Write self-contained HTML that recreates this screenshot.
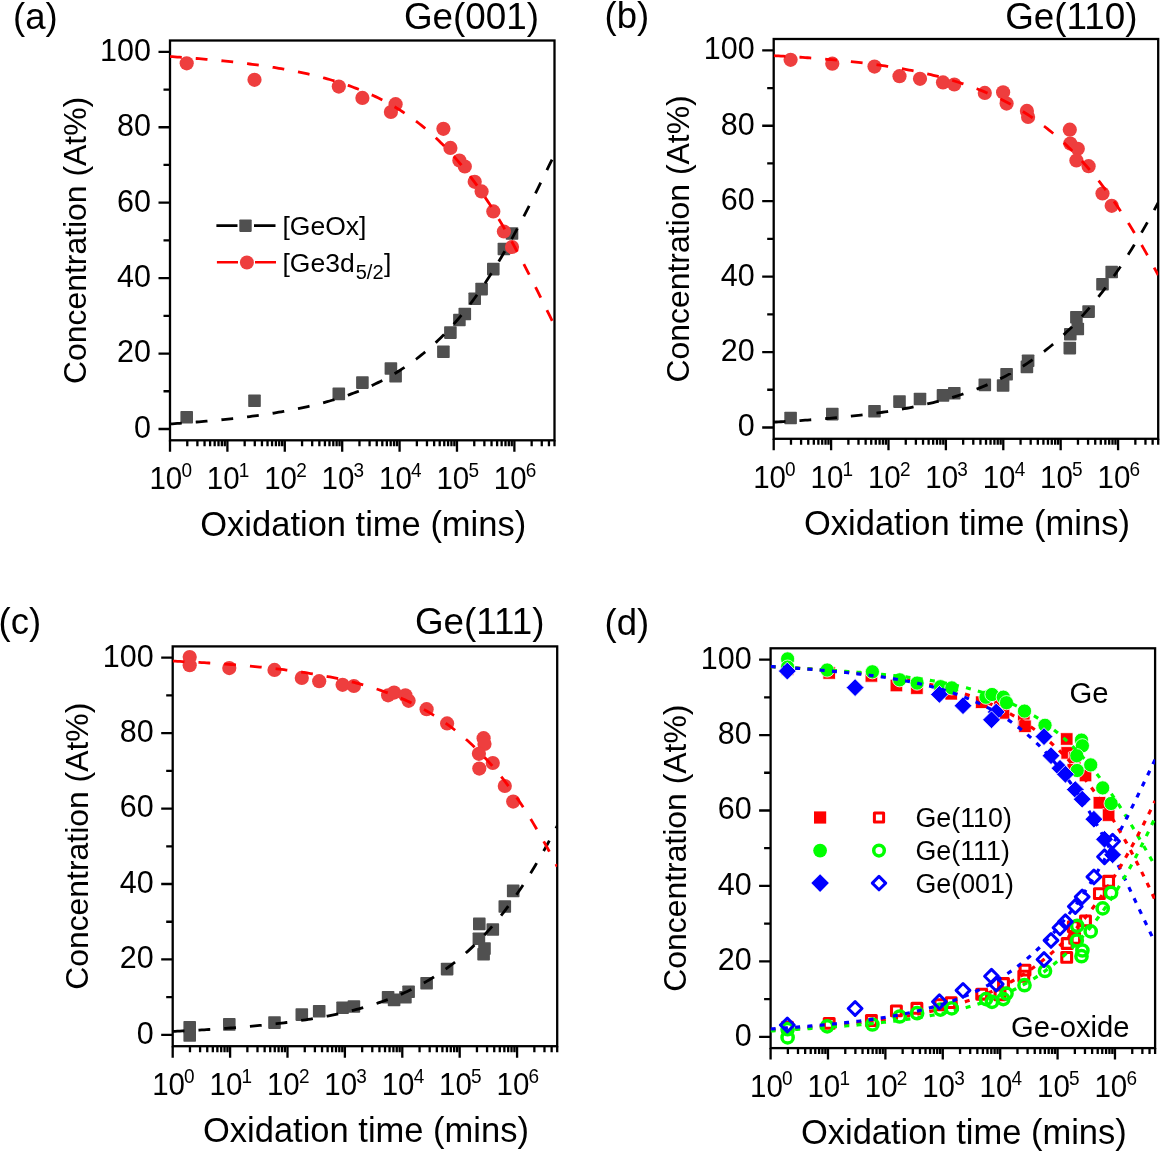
<!DOCTYPE html>
<html><head><meta charset="utf-8"><style>
html,body{margin:0;padding:0;background:#fff;overflow:hidden;}
svg{display:block;will-change:transform;}
text{font-family:"Liberation Sans", sans-serif;fill:#000;}
</style></head><body>
<svg width="1160" height="1151" viewBox="0 0 1160 1151">
<rect width="1160" height="1151" fill="#fff"/>
<g>
<rect x="170.00" y="40.50" width="384.50" height="399.80" fill="none" stroke="#000" stroke-width="2.3"/>
<path d="M158.50 428.98H170.00M158.50 353.55H170.00M158.50 278.12H170.00M158.50 202.68H170.00M158.50 127.25H170.00M158.50 51.82H170.00M163.50 391.27H170.00M163.50 315.83H170.00M163.50 240.40H170.00M163.50 164.97H170.00M163.50 89.53H170.00M170.00 440.30V451.80M227.40 440.30V451.80M284.79 440.30V451.80M342.19 440.30V451.80M399.59 440.30V451.80M456.98 440.30V451.80M514.38 440.30V451.80M187.28 440.30V446.30M197.39 440.30V446.30M204.56 440.30V446.30M210.12 440.30V446.30M214.66 440.30V446.30M218.51 440.30V446.30M221.83 440.30V446.30M224.77 440.30V446.30M244.68 440.30V446.30M254.78 440.30V446.30M261.95 440.30V446.30M267.52 440.30V446.30M272.06 440.30V446.30M275.90 440.30V446.30M279.23 440.30V446.30M282.17 440.30V446.30M302.07 440.30V446.30M312.18 440.30V446.30M319.35 440.30V446.30M324.91 440.30V446.30M329.46 440.30V446.30M333.30 440.30V446.30M336.63 440.30V446.30M339.56 440.30V446.30M359.47 440.30V446.30M369.58 440.30V446.30M376.75 440.30V446.30M382.31 440.30V446.30M386.85 440.30V446.30M390.70 440.30V446.30M394.03 440.30V446.30M396.96 440.30V446.30M416.87 440.30V446.30M426.97 440.30V446.30M434.14 440.30V446.30M439.71 440.30V446.30M444.25 440.30V446.30M448.09 440.30V446.30M451.42 440.30V446.30M454.36 440.30V446.30M474.26 440.30V446.30M484.37 440.30V446.30M491.54 440.30V446.30M497.10 440.30V446.30M501.65 440.30V446.30M505.49 440.30V446.30M508.82 440.30V446.30M511.75 440.30V446.30M531.66 440.30V446.30M541.77 440.30V446.30M548.94 440.30V446.30M554.50 440.30V446.30" stroke="#000" stroke-width="2.3" fill="none"/>
<text transform="translate(151.00,437.88) scale(1,1.04)" text-anchor="end" font-size="30.5">0</text>
<text transform="translate(151.00,362.45) scale(1,1.04)" text-anchor="end" font-size="30.5">20</text>
<text transform="translate(151.00,287.02) scale(1,1.04)" text-anchor="end" font-size="30.5">40</text>
<text transform="translate(151.00,211.58) scale(1,1.04)" text-anchor="end" font-size="30.5">60</text>
<text transform="translate(151.00,136.15) scale(1,1.04)" text-anchor="end" font-size="30.5">80</text>
<text transform="translate(151.00,60.72) scale(1,1.04)" text-anchor="end" font-size="30.5">100</text>
<text transform="translate(170.70,489.00) scale(1,1.04)" text-anchor="middle" font-size="29.5">10<tspan font-size="19" dx="-0.8" dy="-11.3">0</tspan></text>
<text transform="translate(228.10,489.00) scale(1,1.04)" text-anchor="middle" font-size="29.5">10<tspan font-size="19" dx="-0.8" dy="-11.3">1</tspan></text>
<text transform="translate(285.49,489.00) scale(1,1.04)" text-anchor="middle" font-size="29.5">10<tspan font-size="19" dx="-0.8" dy="-11.3">2</tspan></text>
<text transform="translate(342.89,489.00) scale(1,1.04)" text-anchor="middle" font-size="29.5">10<tspan font-size="19" dx="-0.8" dy="-11.3">3</tspan></text>
<text transform="translate(400.29,489.00) scale(1,1.04)" text-anchor="middle" font-size="29.5">10<tspan font-size="19" dx="-0.8" dy="-11.3">4</tspan></text>
<text transform="translate(457.68,489.00) scale(1,1.04)" text-anchor="middle" font-size="29.5">10<tspan font-size="19" dx="-0.8" dy="-11.3">5</tspan></text>
<text transform="translate(515.08,489.00) scale(1,1.04)" text-anchor="middle" font-size="29.5">10<tspan font-size="19" dx="-0.8" dy="-11.3">6</tspan></text>
<text x="363.25" y="536.30" text-anchor="middle" font-size="34.5">Oxidation time (mins)</text>
<text transform="translate(85.60,240.40) rotate(-90)" text-anchor="middle" font-size="31.9">Concentration (At%)</text>
<clipPath id="cla"><rect x="170.0" y="40.5" width="384.5" height="399.8"/></clipPath>
<rect x="180.40" y="410.90" width="12.60" height="12.60" fill="#505050" rx="0.8"/>
<rect x="248.20" y="394.40" width="12.60" height="12.60" fill="#505050" rx="0.8"/>
<rect x="332.50" y="387.60" width="12.60" height="12.60" fill="#505050" rx="0.8"/>
<rect x="356.10" y="376.30" width="12.60" height="12.60" fill="#505050" rx="0.8"/>
<rect x="389.30" y="370.00" width="12.60" height="12.60" fill="#505050" rx="0.8"/>
<rect x="384.60" y="362.20" width="12.60" height="12.60" fill="#505050" rx="0.8"/>
<rect x="437.10" y="345.40" width="12.60" height="12.60" fill="#505050" rx="0.8"/>
<rect x="444.10" y="326.30" width="12.60" height="12.60" fill="#505050" rx="0.8"/>
<rect x="453.10" y="313.70" width="12.60" height="12.60" fill="#505050" rx="0.8"/>
<rect x="458.50" y="307.70" width="12.60" height="12.60" fill="#505050" rx="0.8"/>
<rect x="468.40" y="292.40" width="12.60" height="12.60" fill="#505050" rx="0.8"/>
<rect x="475.30" y="282.80" width="12.60" height="12.60" fill="#505050" rx="0.8"/>
<rect x="487.00" y="262.80" width="12.60" height="12.60" fill="#505050" rx="0.8"/>
<rect x="497.60" y="242.70" width="12.60" height="12.60" fill="#505050" rx="0.8"/>
<rect x="505.70" y="227.20" width="12.60" height="12.60" fill="#505050" rx="0.8"/>
<circle cx="186.70" cy="63.30" r="7.10" fill="#ee3e3e"/>
<circle cx="254.50" cy="79.80" r="7.10" fill="#ee3e3e"/>
<circle cx="338.80" cy="86.60" r="7.10" fill="#ee3e3e"/>
<circle cx="362.40" cy="97.90" r="7.10" fill="#ee3e3e"/>
<circle cx="395.60" cy="104.20" r="7.10" fill="#ee3e3e"/>
<circle cx="390.90" cy="112.00" r="7.10" fill="#ee3e3e"/>
<circle cx="443.40" cy="128.80" r="7.10" fill="#ee3e3e"/>
<circle cx="450.40" cy="147.90" r="7.10" fill="#ee3e3e"/>
<circle cx="459.40" cy="160.50" r="7.10" fill="#ee3e3e"/>
<circle cx="464.80" cy="166.50" r="7.10" fill="#ee3e3e"/>
<circle cx="474.70" cy="181.80" r="7.10" fill="#ee3e3e"/>
<circle cx="481.60" cy="191.40" r="7.10" fill="#ee3e3e"/>
<circle cx="493.30" cy="211.40" r="7.10" fill="#ee3e3e"/>
<circle cx="503.90" cy="231.50" r="7.10" fill="#ee3e3e"/>
<circle cx="512.00" cy="247.00" r="7.10" fill="#ee3e3e"/>
<path d="M170.00 423.95L172.42 423.79L174.84 423.63L177.25 423.46L179.67 423.29L182.09 423.12L184.51 422.94L186.93 422.76L189.35 422.58L191.76 422.39L194.18 422.20L196.60 422.00L199.02 421.80L201.44 421.60L203.86 421.39L206.27 421.18L208.69 420.97L211.11 420.75L213.53 420.52L215.95 420.29L218.36 420.06L220.78 419.82L223.20 419.57L225.62 419.32L228.04 419.07L230.46 418.81L232.87 418.54L235.29 418.27L237.71 418.00L240.13 417.71L242.55 417.43L244.97 417.13L247.38 416.83L249.80 416.52L252.22 416.21L254.64 415.89L257.06 415.56L259.47 415.22L261.89 414.88L264.31 414.52L266.73 414.16L269.15 413.80L271.57 413.42L273.98 413.03L276.40 412.64L278.82 412.24L281.24 411.82L283.66 411.40L286.08 410.96L288.49 410.52L290.91 410.06L293.33 409.60L295.75 409.12L298.17 408.63L300.58 408.13L303.00 407.61L305.42 407.08L307.84 406.54L310.26 405.98L312.68 405.41L315.09 404.83L317.51 404.23L319.93 403.61L322.35 402.98L324.77 402.33L327.19 401.67L329.60 400.98L332.02 400.28L334.44 399.56L336.86 398.82L339.28 398.06L341.69 397.28L344.11 396.48L346.53 395.65L348.95 394.81L351.37 393.94L353.79 393.04L356.20 392.13L358.62 391.18L361.04 390.21L363.46 389.22L365.88 388.19L368.30 387.14L370.71 386.06L373.13 384.95L375.55 383.81L377.97 382.63L380.39 381.43L382.81 380.19L385.22 378.91L387.64 377.60L390.06 376.26L392.48 374.87L394.90 373.45L397.31 371.99L399.73 370.49L402.15 368.94L404.57 367.36L406.99 365.73L409.41 364.05L411.82 362.33L414.24 360.57L416.66 358.75L419.08 356.89L421.50 354.97L423.92 353.01L426.33 350.99L428.75 348.92L431.17 346.80L433.59 344.61L436.01 342.38L438.42 340.08L440.84 337.72L443.26 335.31L445.68 332.83L448.10 330.29L450.52 327.69L452.93 325.03L455.35 322.30L457.77 319.50L460.19 316.64L462.61 313.70L465.03 310.70L467.44 307.63L469.86 304.50L472.28 301.29L474.70 298.01L477.12 294.66L479.53 291.23L481.95 287.74L484.37 284.17L486.79 280.54L489.21 276.83L491.63 273.04L494.04 269.19L496.46 265.27L498.88 261.28L501.30 257.21L503.72 253.08L506.14 248.89L508.55 244.62L510.97 240.29L513.39 235.91L515.81 231.45L518.23 226.95L520.64 222.38L523.06 217.76L525.48 213.09L527.90 208.38L530.32 203.62L532.74 198.82L535.15 193.98L537.57 189.11L539.99 184.21L542.41 179.29L544.83 174.36L547.25 169.40L549.66 164.44L552.08 159.48L554.50 154.53" fill="none" stroke="#000" stroke-width="2.8" stroke-dasharray="11.8 14" clip-path="url(#cla)"/>
<path d="M170.00 56.54L172.42 56.70L174.84 56.86L177.25 57.03L179.67 57.20L182.09 57.37L184.51 57.55L186.93 57.73L189.35 57.91L191.76 58.10L194.18 58.29L196.60 58.49L199.02 58.69L201.44 58.89L203.86 59.10L206.27 59.31L208.69 59.53L211.11 59.75L213.53 59.98L215.95 60.21L218.36 60.44L220.78 60.68L223.20 60.93L225.62 61.18L228.04 61.43L230.46 61.69L232.87 61.96L235.29 62.23L237.71 62.51L240.13 62.79L242.55 63.08L244.97 63.38L247.38 63.68L249.80 63.99L252.22 64.31L254.64 64.63L257.06 64.96L259.47 65.30L261.89 65.64L264.31 65.99L266.73 66.35L269.15 66.72L271.57 67.10L273.98 67.49L276.40 67.88L278.82 68.29L281.24 68.70L283.66 69.13L286.08 69.56L288.49 70.00L290.91 70.46L293.33 70.93L295.75 71.40L298.17 71.89L300.58 72.40L303.00 72.91L305.42 73.44L307.84 73.98L310.26 74.53L312.68 75.10L315.09 75.69L317.51 76.29L319.93 76.90L322.35 77.53L324.77 78.18L327.19 78.84L329.60 79.52L332.02 80.22L334.44 80.94L336.86 81.68L339.28 82.44L341.69 83.22L344.11 84.02L346.53 84.84L348.95 85.68L351.37 86.55L353.79 87.44L356.20 88.35L358.62 89.29L361.04 90.26L363.46 91.25L365.88 92.27L368.30 93.32L370.71 94.40L373.13 95.51L375.55 96.64L377.97 97.82L380.39 99.02L382.81 100.26L385.22 101.53L387.64 102.83L390.06 104.18L392.48 105.56L394.90 106.97L397.31 108.43L399.73 109.93L402.15 111.47L404.57 113.05L406.99 114.68L409.41 116.35L411.82 118.07L414.24 119.83L416.66 121.64L419.08 123.50L421.50 125.42L423.92 127.38L426.33 129.39L428.75 131.46L431.17 133.59L433.59 135.77L436.01 138.00L438.42 140.30L440.84 142.65L443.26 145.07L445.68 147.54L448.10 150.08L450.52 152.69L452.93 155.35L455.35 158.08L457.77 160.88L460.19 163.75L462.61 166.68L465.03 169.68L467.44 172.75L469.86 175.90L472.28 179.11L474.70 182.39L477.12 185.75L479.53 189.17L481.95 192.67L484.37 196.24L486.79 199.88L489.21 203.59L491.63 207.38L494.04 211.23L496.46 215.16L498.88 219.16L501.30 223.22L503.72 227.35L506.14 231.55L508.55 235.81L510.97 240.14L513.39 244.53L515.81 248.98L518.23 253.48L520.64 258.04L523.06 262.65L525.48 267.31L527.90 272.02L530.32 276.76L532.74 281.55L535.15 286.37L537.57 291.21L539.99 296.09L542.41 300.98L544.83 305.89L547.25 310.80L549.66 315.72L552.08 320.63L554.50 325.54" fill="none" stroke="#f00" stroke-width="2.8" stroke-dasharray="11.8 14" clip-path="url(#cla)"/>
</g>
<g>
<rect x="773.70" y="39.00" width="384.50" height="399.80" fill="none" stroke="#000" stroke-width="2.3"/>
<path d="M762.20 427.48H773.70M762.20 352.05H773.70M762.20 276.62H773.70M762.20 201.18H773.70M762.20 125.75H773.70M762.20 50.32H773.70M767.20 389.77H773.70M767.20 314.33H773.70M767.20 238.90H773.70M767.20 163.47H773.70M767.20 88.03H773.70M773.70 438.80V450.30M831.10 438.80V450.30M888.49 438.80V450.30M945.89 438.80V450.30M1003.29 438.80V450.30M1060.68 438.80V450.30M1118.08 438.80V450.30M790.98 438.80V444.80M801.09 438.80V444.80M808.26 438.80V444.80M813.82 438.80V444.80M818.36 438.80V444.80M822.21 438.80V444.80M825.53 438.80V444.80M828.47 438.80V444.80M848.38 438.80V444.80M858.48 438.80V444.80M865.65 438.80V444.80M871.22 438.80V444.80M875.76 438.80V444.80M879.60 438.80V444.80M882.93 438.80V444.80M885.87 438.80V444.80M905.77 438.80V444.80M915.88 438.80V444.80M923.05 438.80V444.80M928.61 438.80V444.80M933.16 438.80V444.80M937.00 438.80V444.80M940.33 438.80V444.80M943.26 438.80V444.80M963.17 438.80V444.80M973.28 438.80V444.80M980.45 438.80V444.80M986.01 438.80V444.80M990.55 438.80V444.80M994.40 438.80V444.80M997.73 438.80V444.80M1000.66 438.80V444.80M1020.57 438.80V444.80M1030.67 438.80V444.80M1037.84 438.80V444.80M1043.41 438.80V444.80M1047.95 438.80V444.80M1051.79 438.80V444.80M1055.12 438.80V444.80M1058.06 438.80V444.80M1077.96 438.80V444.80M1088.07 438.80V444.80M1095.24 438.80V444.80M1100.80 438.80V444.80M1105.35 438.80V444.80M1109.19 438.80V444.80M1112.52 438.80V444.80M1115.45 438.80V444.80M1135.36 438.80V444.80M1145.47 438.80V444.80M1152.64 438.80V444.80M1158.20 438.80V444.80" stroke="#000" stroke-width="2.3" fill="none"/>
<text transform="translate(754.70,436.38) scale(1,1.04)" text-anchor="end" font-size="30.5">0</text>
<text transform="translate(754.70,360.95) scale(1,1.04)" text-anchor="end" font-size="30.5">20</text>
<text transform="translate(754.70,285.52) scale(1,1.04)" text-anchor="end" font-size="30.5">40</text>
<text transform="translate(754.70,210.08) scale(1,1.04)" text-anchor="end" font-size="30.5">60</text>
<text transform="translate(754.70,134.65) scale(1,1.04)" text-anchor="end" font-size="30.5">80</text>
<text transform="translate(754.70,59.22) scale(1,1.04)" text-anchor="end" font-size="30.5">100</text>
<text transform="translate(774.40,487.50) scale(1,1.04)" text-anchor="middle" font-size="29.5">10<tspan font-size="19" dx="-0.8" dy="-11.3">0</tspan></text>
<text transform="translate(831.80,487.50) scale(1,1.04)" text-anchor="middle" font-size="29.5">10<tspan font-size="19" dx="-0.8" dy="-11.3">1</tspan></text>
<text transform="translate(889.19,487.50) scale(1,1.04)" text-anchor="middle" font-size="29.5">10<tspan font-size="19" dx="-0.8" dy="-11.3">2</tspan></text>
<text transform="translate(946.59,487.50) scale(1,1.04)" text-anchor="middle" font-size="29.5">10<tspan font-size="19" dx="-0.8" dy="-11.3">3</tspan></text>
<text transform="translate(1003.99,487.50) scale(1,1.04)" text-anchor="middle" font-size="29.5">10<tspan font-size="19" dx="-0.8" dy="-11.3">4</tspan></text>
<text transform="translate(1061.38,487.50) scale(1,1.04)" text-anchor="middle" font-size="29.5">10<tspan font-size="19" dx="-0.8" dy="-11.3">5</tspan></text>
<text transform="translate(1118.78,487.50) scale(1,1.04)" text-anchor="middle" font-size="29.5">10<tspan font-size="19" dx="-0.8" dy="-11.3">6</tspan></text>
<text x="966.95" y="534.80" text-anchor="middle" font-size="34.5">Oxidation time (mins)</text>
<text transform="translate(689.30,238.90) rotate(-90)" text-anchor="middle" font-size="31.9">Concentration (At%)</text>
<clipPath id="clb"><rect x="773.7" y="39.0" width="384.5" height="399.8"/></clipPath>
<rect x="784.30" y="411.70" width="12.60" height="12.60" fill="#505050" rx="0.8"/>
<rect x="826.00" y="407.80" width="12.60" height="12.60" fill="#505050" rx="0.8"/>
<rect x="868.20" y="404.90" width="12.60" height="12.60" fill="#505050" rx="0.8"/>
<rect x="893.20" y="395.30" width="12.60" height="12.60" fill="#505050" rx="0.8"/>
<rect x="913.70" y="392.70" width="12.60" height="12.60" fill="#505050" rx="0.8"/>
<rect x="936.70" y="389.10" width="12.60" height="12.60" fill="#505050" rx="0.8"/>
<rect x="948.00" y="387.00" width="12.60" height="12.60" fill="#505050" rx="0.8"/>
<rect x="978.50" y="378.60" width="12.60" height="12.60" fill="#505050" rx="0.8"/>
<rect x="996.80" y="379.20" width="12.60" height="12.60" fill="#505050" rx="0.8"/>
<rect x="1000.30" y="367.90" width="12.60" height="12.60" fill="#505050" rx="0.8"/>
<rect x="1020.60" y="360.60" width="12.60" height="12.60" fill="#505050" rx="0.8"/>
<rect x="1021.80" y="354.50" width="12.60" height="12.60" fill="#505050" rx="0.8"/>
<rect x="1063.50" y="341.80" width="12.60" height="12.60" fill="#505050" rx="0.8"/>
<rect x="1064.00" y="327.90" width="12.60" height="12.60" fill="#505050" rx="0.8"/>
<rect x="1071.50" y="322.70" width="12.60" height="12.60" fill="#505050" rx="0.8"/>
<rect x="1070.10" y="311.00" width="12.60" height="12.60" fill="#505050" rx="0.8"/>
<rect x="1082.30" y="305.30" width="12.60" height="12.60" fill="#505050" rx="0.8"/>
<rect x="1096.20" y="278.00" width="12.60" height="12.60" fill="#505050" rx="0.8"/>
<rect x="1105.40" y="265.70" width="12.60" height="12.60" fill="#505050" rx="0.8"/>
<circle cx="790.60" cy="59.80" r="7.10" fill="#ee3e3e"/>
<circle cx="832.30" cy="63.70" r="7.10" fill="#ee3e3e"/>
<circle cx="874.50" cy="66.60" r="7.10" fill="#ee3e3e"/>
<circle cx="899.50" cy="76.20" r="7.10" fill="#ee3e3e"/>
<circle cx="920.00" cy="78.80" r="7.10" fill="#ee3e3e"/>
<circle cx="943.00" cy="82.40" r="7.10" fill="#ee3e3e"/>
<circle cx="954.30" cy="84.50" r="7.10" fill="#ee3e3e"/>
<circle cx="984.80" cy="92.90" r="7.10" fill="#ee3e3e"/>
<circle cx="1003.10" cy="92.30" r="7.10" fill="#ee3e3e"/>
<circle cx="1006.60" cy="103.60" r="7.10" fill="#ee3e3e"/>
<circle cx="1026.90" cy="110.90" r="7.10" fill="#ee3e3e"/>
<circle cx="1028.10" cy="117.00" r="7.10" fill="#ee3e3e"/>
<circle cx="1069.80" cy="129.70" r="7.10" fill="#ee3e3e"/>
<circle cx="1070.30" cy="143.60" r="7.10" fill="#ee3e3e"/>
<circle cx="1077.80" cy="148.80" r="7.10" fill="#ee3e3e"/>
<circle cx="1076.40" cy="160.50" r="7.10" fill="#ee3e3e"/>
<circle cx="1088.60" cy="166.20" r="7.10" fill="#ee3e3e"/>
<circle cx="1102.50" cy="193.50" r="7.10" fill="#ee3e3e"/>
<circle cx="1111.70" cy="205.80" r="7.10" fill="#ee3e3e"/>
<path d="M773.70 422.13L776.12 422.00L778.54 421.87L780.95 421.73L783.37 421.59L785.79 421.45L788.21 421.31L790.63 421.16L793.05 421.01L795.46 420.85L797.88 420.70L800.30 420.54L802.72 420.37L805.14 420.20L807.56 420.03L809.97 419.86L812.39 419.68L814.81 419.50L817.23 419.31L819.65 419.12L822.06 418.92L824.48 418.72L826.90 418.52L829.32 418.31L831.74 418.09L834.16 417.88L836.57 417.65L838.99 417.42L841.41 417.19L843.83 416.95L846.25 416.70L848.67 416.45L851.08 416.20L853.50 415.93L855.92 415.66L858.34 415.39L860.76 415.11L863.17 414.82L865.59 414.52L868.01 414.22L870.43 413.91L872.85 413.60L875.27 413.27L877.68 412.94L880.10 412.60L882.52 412.25L884.94 411.89L887.36 411.53L889.78 411.15L892.19 410.77L894.61 410.37L897.03 409.97L899.45 409.55L901.87 409.13L904.28 408.70L906.70 408.25L909.12 407.80L911.54 407.33L913.96 406.85L916.38 406.36L918.79 405.85L921.21 405.34L923.63 404.81L926.05 404.26L928.47 403.71L930.89 403.13L933.30 402.55L935.72 401.95L938.14 401.33L940.56 400.70L942.98 400.05L945.39 399.39L947.81 398.71L950.23 398.01L952.65 397.29L955.07 396.56L957.49 395.80L959.90 395.03L962.32 394.23L964.74 393.42L967.16 392.59L969.58 391.73L972.00 390.85L974.41 389.95L976.83 389.03L979.25 388.08L981.67 387.11L984.09 386.11L986.51 385.09L988.92 384.04L991.34 382.96L993.76 381.86L996.18 380.73L998.60 379.57L1001.01 378.38L1003.43 377.16L1005.85 375.91L1008.27 374.63L1010.69 373.32L1013.11 371.97L1015.52 370.59L1017.94 369.17L1020.36 367.72L1022.78 366.23L1025.20 364.71L1027.62 363.14L1030.03 361.54L1032.45 359.90L1034.87 358.22L1037.29 356.50L1039.71 354.74L1042.12 352.93L1044.54 351.08L1046.96 349.19L1049.38 347.25L1051.80 345.27L1054.22 343.23L1056.63 341.16L1059.05 339.03L1061.47 336.85L1063.89 334.62L1066.31 332.34L1068.73 330.01L1071.14 327.63L1073.56 325.20L1075.98 322.71L1078.40 320.16L1080.82 317.56L1083.23 314.90L1085.65 312.19L1088.07 309.42L1090.49 306.59L1092.91 303.70L1095.33 300.76L1097.74 297.75L1100.16 294.68L1102.58 291.55L1105.00 288.36L1107.42 285.11L1109.84 281.80L1112.25 278.42L1114.67 274.98L1117.09 271.48L1119.51 267.92L1121.93 264.29L1124.34 260.60L1126.76 256.85L1129.18 253.04L1131.60 249.17L1134.02 245.23L1136.44 241.23L1138.85 237.18L1141.27 233.06L1143.69 228.88L1146.11 224.65L1148.53 220.36L1150.95 216.01L1153.36 211.61L1155.78 207.16L1158.20 202.65" fill="none" stroke="#000" stroke-width="2.8" stroke-dasharray="11.8 14" clip-path="url(#clb)"/>
<path d="M773.70 55.66L776.12 55.79L778.54 55.93L780.95 56.06L783.37 56.20L785.79 56.34L788.21 56.49L790.63 56.64L793.05 56.79L795.46 56.94L797.88 57.10L800.30 57.26L802.72 57.43L805.14 57.59L807.56 57.77L809.97 57.94L812.39 58.12L814.81 58.31L817.23 58.49L819.65 58.69L822.06 58.88L824.48 59.08L826.90 59.29L829.32 59.50L831.74 59.71L834.16 59.93L836.57 60.16L838.99 60.39L841.41 60.62L843.83 60.86L846.25 61.11L848.67 61.36L851.08 61.62L853.50 61.88L855.92 62.15L858.34 62.42L860.76 62.71L863.17 63.00L865.59 63.29L868.01 63.59L870.43 63.90L872.85 64.22L875.27 64.55L877.68 64.88L880.10 65.22L882.52 65.57L884.94 65.93L887.36 66.29L889.78 66.67L892.19 67.05L894.61 67.45L897.03 67.85L899.45 68.27L901.87 68.69L904.28 69.12L906.70 69.57L909.12 70.03L911.54 70.49L913.96 70.97L916.38 71.46L918.79 71.97L921.21 72.48L923.63 73.01L926.05 73.55L928.47 74.11L930.89 74.68L933.30 75.27L935.72 75.87L938.14 76.48L940.56 77.11L942.98 77.76L945.39 78.42L947.81 79.10L950.23 79.80L952.65 80.51L955.07 81.24L957.49 82.00L959.90 82.77L962.32 83.56L964.74 84.37L967.16 85.20L969.58 86.05L972.00 86.93L974.41 87.83L976.83 88.75L979.25 89.69L981.67 90.66L984.09 91.65L986.51 92.67L988.92 93.71L991.34 94.78L993.76 95.88L996.18 97.01L998.60 98.16L1001.01 99.34L1003.43 100.56L1005.85 101.80L1008.27 103.08L1010.69 104.38L1013.11 105.73L1015.52 107.10L1017.94 108.51L1020.36 109.95L1022.78 111.43L1025.20 112.95L1027.62 114.50L1030.03 116.09L1032.45 117.72L1034.87 119.40L1037.29 121.11L1039.71 122.86L1042.12 124.66L1044.54 126.50L1046.96 128.38L1049.38 130.31L1051.80 132.28L1054.22 134.30L1056.63 136.37L1059.05 138.49L1061.47 140.66L1063.89 142.87L1066.31 145.14L1068.73 147.46L1071.14 149.83L1073.56 152.26L1075.98 154.74L1078.40 157.27L1080.82 159.86L1083.23 162.51L1085.65 165.21L1088.07 167.97L1090.49 170.80L1092.91 173.68L1095.33 176.62L1097.74 179.62L1100.16 182.68L1102.58 185.80L1105.00 188.99L1107.42 192.24L1109.84 195.55L1112.25 198.92L1114.67 202.36L1117.09 205.86L1119.51 209.43L1121.93 213.06L1124.34 216.76L1126.76 220.52L1129.18 224.34L1131.60 228.23L1134.02 232.18L1136.44 236.20L1138.85 240.28L1141.27 244.42L1143.69 248.62L1146.11 252.89L1148.53 257.21L1150.95 261.60L1153.36 266.04L1155.78 270.54L1158.20 275.10" fill="none" stroke="#f00" stroke-width="2.8" stroke-dasharray="11.8 14" clip-path="url(#clb)"/>
</g>
<g>
<rect x="172.70" y="646.40" width="384.50" height="399.80" fill="none" stroke="#000" stroke-width="2.3"/>
<path d="M161.20 1034.88H172.70M161.20 959.45H172.70M161.20 884.02H172.70M161.20 808.58H172.70M161.20 733.15H172.70M161.20 657.72H172.70M166.20 997.17H172.70M166.20 921.73H172.70M166.20 846.30H172.70M166.20 770.87H172.70M166.20 695.43H172.70M172.70 1046.20V1057.70M230.10 1046.20V1057.70M287.49 1046.20V1057.70M344.89 1046.20V1057.70M402.29 1046.20V1057.70M459.68 1046.20V1057.70M517.08 1046.20V1057.70M189.98 1046.20V1052.20M200.09 1046.20V1052.20M207.26 1046.20V1052.20M212.82 1046.20V1052.20M217.36 1046.20V1052.20M221.21 1046.20V1052.20M224.53 1046.20V1052.20M227.47 1046.20V1052.20M247.38 1046.20V1052.20M257.48 1046.20V1052.20M264.65 1046.20V1052.20M270.22 1046.20V1052.20M274.76 1046.20V1052.20M278.60 1046.20V1052.20M281.93 1046.20V1052.20M284.87 1046.20V1052.20M304.77 1046.20V1052.20M314.88 1046.20V1052.20M322.05 1046.20V1052.20M327.61 1046.20V1052.20M332.16 1046.20V1052.20M336.00 1046.20V1052.20M339.33 1046.20V1052.20M342.26 1046.20V1052.20M362.17 1046.20V1052.20M372.28 1046.20V1052.20M379.45 1046.20V1052.20M385.01 1046.20V1052.20M389.55 1046.20V1052.20M393.40 1046.20V1052.20M396.73 1046.20V1052.20M399.66 1046.20V1052.20M419.57 1046.20V1052.20M429.67 1046.20V1052.20M436.84 1046.20V1052.20M442.41 1046.20V1052.20M446.95 1046.20V1052.20M450.79 1046.20V1052.20M454.12 1046.20V1052.20M457.06 1046.20V1052.20M476.96 1046.20V1052.20M487.07 1046.20V1052.20M494.24 1046.20V1052.20M499.80 1046.20V1052.20M504.35 1046.20V1052.20M508.19 1046.20V1052.20M511.52 1046.20V1052.20M514.45 1046.20V1052.20M534.36 1046.20V1052.20M544.47 1046.20V1052.20M551.64 1046.20V1052.20M557.20 1046.20V1052.20" stroke="#000" stroke-width="2.3" fill="none"/>
<text transform="translate(153.70,1043.78) scale(1,1.04)" text-anchor="end" font-size="30.5">0</text>
<text transform="translate(153.70,968.35) scale(1,1.04)" text-anchor="end" font-size="30.5">20</text>
<text transform="translate(153.70,892.92) scale(1,1.04)" text-anchor="end" font-size="30.5">40</text>
<text transform="translate(153.70,817.48) scale(1,1.04)" text-anchor="end" font-size="30.5">60</text>
<text transform="translate(153.70,742.05) scale(1,1.04)" text-anchor="end" font-size="30.5">80</text>
<text transform="translate(153.70,666.62) scale(1,1.04)" text-anchor="end" font-size="30.5">100</text>
<text transform="translate(173.40,1094.90) scale(1,1.04)" text-anchor="middle" font-size="29.5">10<tspan font-size="19" dx="-0.8" dy="-11.3">0</tspan></text>
<text transform="translate(230.80,1094.90) scale(1,1.04)" text-anchor="middle" font-size="29.5">10<tspan font-size="19" dx="-0.8" dy="-11.3">1</tspan></text>
<text transform="translate(288.19,1094.90) scale(1,1.04)" text-anchor="middle" font-size="29.5">10<tspan font-size="19" dx="-0.8" dy="-11.3">2</tspan></text>
<text transform="translate(345.59,1094.90) scale(1,1.04)" text-anchor="middle" font-size="29.5">10<tspan font-size="19" dx="-0.8" dy="-11.3">3</tspan></text>
<text transform="translate(402.99,1094.90) scale(1,1.04)" text-anchor="middle" font-size="29.5">10<tspan font-size="19" dx="-0.8" dy="-11.3">4</tspan></text>
<text transform="translate(460.38,1094.90) scale(1,1.04)" text-anchor="middle" font-size="29.5">10<tspan font-size="19" dx="-0.8" dy="-11.3">5</tspan></text>
<text transform="translate(517.78,1094.90) scale(1,1.04)" text-anchor="middle" font-size="29.5">10<tspan font-size="19" dx="-0.8" dy="-11.3">6</tspan></text>
<text x="365.95" y="1142.20" text-anchor="middle" font-size="34.5">Oxidation time (mins)</text>
<text transform="translate(88.30,846.30) rotate(-90)" text-anchor="middle" font-size="31.9">Concentration (At%)</text>
<clipPath id="clc"><rect x="172.7" y="646.4" width="384.5" height="399.8"/></clipPath>
<rect x="183.40" y="1029.20" width="12.60" height="12.60" fill="#505050" rx="0.8"/>
<rect x="183.40" y="1021.00" width="12.60" height="12.60" fill="#505050" rx="0.8"/>
<rect x="223.00" y="1018.10" width="12.60" height="12.60" fill="#505050" rx="0.8"/>
<rect x="268.20" y="1016.30" width="12.60" height="12.60" fill="#505050" rx="0.8"/>
<rect x="295.50" y="1008.30" width="12.60" height="12.60" fill="#505050" rx="0.8"/>
<rect x="312.90" y="1005.00" width="12.60" height="12.60" fill="#505050" rx="0.8"/>
<rect x="336.30" y="1001.40" width="12.60" height="12.60" fill="#505050" rx="0.8"/>
<rect x="347.60" y="1000.20" width="12.60" height="12.60" fill="#505050" rx="0.8"/>
<rect x="381.80" y="990.90" width="12.60" height="12.60" fill="#505050" rx="0.8"/>
<rect x="387.80" y="993.60" width="12.60" height="12.60" fill="#505050" rx="0.8"/>
<rect x="399.10" y="990.90" width="12.60" height="12.60" fill="#505050" rx="0.8"/>
<rect x="402.30" y="985.40" width="12.60" height="12.60" fill="#505050" rx="0.8"/>
<rect x="420.30" y="977.00" width="12.60" height="12.60" fill="#505050" rx="0.8"/>
<rect x="440.80" y="962.80" width="12.60" height="12.60" fill="#505050" rx="0.8"/>
<rect x="477.30" y="948.00" width="12.60" height="12.60" fill="#505050" rx="0.8"/>
<rect x="478.20" y="942.30" width="12.60" height="12.60" fill="#505050" rx="0.8"/>
<rect x="472.60" y="932.40" width="12.60" height="12.60" fill="#505050" rx="0.8"/>
<rect x="486.50" y="923.20" width="12.60" height="12.60" fill="#505050" rx="0.8"/>
<rect x="473.00" y="917.60" width="12.60" height="12.60" fill="#505050" rx="0.8"/>
<rect x="498.50" y="900.20" width="12.60" height="12.60" fill="#505050" rx="0.8"/>
<rect x="506.90" y="884.60" width="12.60" height="12.60" fill="#505050" rx="0.8"/>
<circle cx="189.70" cy="657.00" r="7.10" fill="#ee3e3e"/>
<circle cx="189.70" cy="665.20" r="7.10" fill="#ee3e3e"/>
<circle cx="229.30" cy="668.10" r="7.10" fill="#ee3e3e"/>
<circle cx="274.50" cy="669.90" r="7.10" fill="#ee3e3e"/>
<circle cx="301.80" cy="677.90" r="7.10" fill="#ee3e3e"/>
<circle cx="319.20" cy="681.20" r="7.10" fill="#ee3e3e"/>
<circle cx="342.60" cy="684.80" r="7.10" fill="#ee3e3e"/>
<circle cx="353.90" cy="686.00" r="7.10" fill="#ee3e3e"/>
<circle cx="388.10" cy="695.30" r="7.10" fill="#ee3e3e"/>
<circle cx="394.10" cy="692.60" r="7.10" fill="#ee3e3e"/>
<circle cx="405.40" cy="695.30" r="7.10" fill="#ee3e3e"/>
<circle cx="408.60" cy="700.80" r="7.10" fill="#ee3e3e"/>
<circle cx="426.60" cy="709.20" r="7.10" fill="#ee3e3e"/>
<circle cx="447.10" cy="723.40" r="7.10" fill="#ee3e3e"/>
<circle cx="483.60" cy="738.20" r="7.10" fill="#ee3e3e"/>
<circle cx="484.50" cy="743.90" r="7.10" fill="#ee3e3e"/>
<circle cx="478.90" cy="753.80" r="7.10" fill="#ee3e3e"/>
<circle cx="492.80" cy="763.00" r="7.10" fill="#ee3e3e"/>
<circle cx="479.30" cy="768.60" r="7.10" fill="#ee3e3e"/>
<circle cx="504.80" cy="786.00" r="7.10" fill="#ee3e3e"/>
<circle cx="513.20" cy="801.60" r="7.10" fill="#ee3e3e"/>
<path d="M172.70 1031.41L175.12 1031.30L177.54 1031.19L179.95 1031.07L182.37 1030.95L184.79 1030.83L187.21 1030.71L189.63 1030.59L192.05 1030.46L194.46 1030.33L196.88 1030.19L199.30 1030.06L201.72 1029.92L204.14 1029.78L206.56 1029.63L208.97 1029.48L211.39 1029.33L213.81 1029.17L216.23 1029.02L218.65 1028.85L221.06 1028.69L223.48 1028.52L225.90 1028.35L228.32 1028.17L230.74 1027.99L233.16 1027.80L235.57 1027.62L237.99 1027.42L240.41 1027.23L242.83 1027.02L245.25 1026.82L247.67 1026.61L250.08 1026.39L252.50 1026.17L254.92 1025.95L257.34 1025.72L259.76 1025.48L262.17 1025.24L264.59 1025.00L267.01 1024.74L269.43 1024.49L271.85 1024.22L274.27 1023.95L276.68 1023.68L279.10 1023.39L281.52 1023.10L283.94 1022.81L286.36 1022.50L288.78 1022.19L291.19 1021.87L293.61 1021.55L296.03 1021.21L298.45 1020.87L300.87 1020.52L303.28 1020.16L305.70 1019.79L308.12 1019.41L310.54 1019.03L312.96 1018.63L315.38 1018.22L317.79 1017.81L320.21 1017.38L322.63 1016.94L325.05 1016.49L327.47 1016.03L329.89 1015.55L332.30 1015.07L334.72 1014.57L337.14 1014.06L339.56 1013.53L341.98 1012.99L344.39 1012.44L346.81 1011.87L349.23 1011.29L351.65 1010.69L354.07 1010.08L356.49 1009.45L358.90 1008.80L361.32 1008.13L363.74 1007.45L366.16 1006.75L368.58 1006.03L371.00 1005.29L373.41 1004.53L375.83 1003.75L378.25 1002.94L380.67 1002.12L383.09 1001.27L385.51 1000.40L387.92 999.51L390.34 998.59L392.76 997.65L395.18 996.68L397.60 995.68L400.01 994.66L402.43 993.61L404.85 992.53L407.27 991.42L409.69 990.27L412.11 989.10L414.52 987.90L416.94 986.66L419.36 985.39L421.78 984.08L424.20 982.74L426.62 981.36L429.03 979.95L431.45 978.49L433.87 977.00L436.29 975.46L438.71 973.89L441.12 972.27L443.54 970.61L445.96 968.90L448.38 967.15L450.80 965.35L453.22 963.50L455.63 961.61L458.05 959.66L460.47 957.67L462.89 955.62L465.31 953.52L467.73 951.36L470.14 949.15L472.56 946.89L474.98 944.56L477.40 942.18L479.82 939.74L482.23 937.24L484.65 934.67L487.07 932.05L489.49 929.36L491.91 926.60L494.33 923.78L496.74 920.90L499.16 917.95L501.58 914.92L504.00 911.84L506.42 908.68L508.84 905.45L511.25 902.15L513.67 898.78L516.09 895.33L518.51 891.82L520.93 888.23L523.34 884.57L525.76 880.84L528.18 877.03L530.60 873.15L533.02 869.20L535.44 865.18L537.85 861.08L540.27 856.91L542.69 852.67L545.11 848.36L547.53 843.99L549.95 839.54L552.36 835.02L554.78 830.44L557.20 825.80" fill="none" stroke="#000" stroke-width="2.8" stroke-dasharray="11.8 14" clip-path="url(#clc)"/>
<path d="M172.70 661.08L175.12 661.19L177.54 661.30L179.95 661.42L182.37 661.53L184.79 661.65L187.21 661.78L189.63 661.90L192.05 662.03L194.46 662.16L196.88 662.30L199.30 662.43L201.72 662.57L204.14 662.72L206.56 662.86L208.97 663.01L211.39 663.17L213.81 663.32L216.23 663.48L218.65 663.64L221.06 663.81L223.48 663.98L225.90 664.15L228.32 664.33L230.74 664.51L233.16 664.70L235.57 664.89L237.99 665.08L240.41 665.28L242.83 665.48L245.25 665.69L247.67 665.90L250.08 666.12L252.50 666.34L254.92 666.57L257.34 666.80L259.76 667.03L262.17 667.28L264.59 667.52L267.01 667.78L269.43 668.04L271.85 668.30L274.27 668.57L276.68 668.85L279.10 669.13L281.52 669.42L283.94 669.72L286.36 670.03L288.78 670.34L291.19 670.66L293.61 670.98L296.03 671.32L298.45 671.66L300.87 672.01L303.28 672.37L305.70 672.74L308.12 673.12L310.54 673.51L312.96 673.90L315.38 674.31L317.79 674.73L320.21 675.16L322.63 675.59L325.05 676.04L327.47 676.51L329.89 676.98L332.30 677.46L334.72 677.96L337.14 678.47L339.56 679.00L341.98 679.53L344.39 680.09L346.81 680.65L349.23 681.23L351.65 681.83L354.07 682.44L356.49 683.07L358.90 683.72L361.32 684.38L363.74 685.06L366.16 685.76L368.58 686.47L371.00 687.21L373.41 687.97L375.83 688.75L378.25 689.54L380.67 690.36L383.09 691.21L385.51 692.07L387.92 692.96L390.34 693.87L392.76 694.81L395.18 695.78L397.60 696.77L400.01 697.78L402.43 698.83L404.85 699.90L407.27 701.01L409.69 702.14L412.11 703.31L414.52 704.50L416.94 705.73L419.36 707.00L421.78 708.29L424.20 709.63L426.62 711.00L429.03 712.40L431.45 713.85L433.87 715.33L436.29 716.86L438.71 718.42L441.12 720.03L443.54 721.68L445.96 723.38L448.38 725.12L450.80 726.91L453.22 728.75L455.63 730.63L458.05 732.56L460.47 734.55L462.89 736.58L465.31 738.67L467.73 740.82L470.14 743.02L472.56 745.27L474.98 747.59L477.40 749.96L479.82 752.39L482.23 754.88L484.65 757.43L487.07 760.05L489.49 762.73L491.91 765.48L494.33 768.29L496.74 771.17L499.16 774.11L501.58 777.13L504.00 780.21L506.42 783.37L508.84 786.59L511.25 789.89L513.67 793.26L516.09 796.70L518.51 800.22L520.93 803.81L523.34 807.47L525.76 811.21L528.18 815.03L530.60 818.92L533.02 822.88L535.44 826.92L537.85 831.04L540.27 835.23L542.69 839.49L545.11 843.83L547.53 848.24L549.95 852.72L552.36 857.27L554.78 861.89L557.20 866.58" fill="none" stroke="#f00" stroke-width="2.8" stroke-dasharray="11.8 14" clip-path="url(#clc)"/>
</g>
<path d="M216.4 225.6H237.5M254 225.6H275.5" stroke="#000" stroke-width="2.6"/>
<rect x="239.30" y="219.50" width="12.40" height="12.40" fill="#505050" rx="0.8"/>
<path d="M216.9 262.3H238M255 262.3H276" stroke="#f00" stroke-width="2.6"/>
<circle cx="246.90" cy="262.50" r="7.00" fill="#ee3e3e"/>
<text x="282.5" y="235" font-size="26.5">[GeOx]</text>
<text x="282.5" y="271.7" font-size="26.5">[Ge3d<tspan font-size="20" dx="1" dy="7.5">5/2</tspan><tspan dx="0.5" dy="-7.5">]</tspan></text>
<rect x="770.60" y="648.30" width="384.50" height="399.80" fill="none" stroke="#000" stroke-width="2.3"/>
<path d="M759.10 1036.78H770.60M759.10 961.35H770.60M759.10 885.92H770.60M759.10 810.48H770.60M759.10 735.05H770.60M759.10 659.62H770.60M764.10 999.07H770.60M764.10 923.63H770.60M764.10 848.20H770.60M764.10 772.77H770.60M764.10 697.33H770.60M770.60 1048.10V1059.60M828.00 1048.10V1059.60M885.39 1048.10V1059.60M942.79 1048.10V1059.60M1000.19 1048.10V1059.60M1057.58 1048.10V1059.60M1114.98 1048.10V1059.60M787.88 1048.10V1054.10M797.99 1048.10V1054.10M805.16 1048.10V1054.10M810.72 1048.10V1054.10M815.26 1048.10V1054.10M819.11 1048.10V1054.10M822.43 1048.10V1054.10M825.37 1048.10V1054.10M845.28 1048.10V1054.10M855.38 1048.10V1054.10M862.55 1048.10V1054.10M868.12 1048.10V1054.10M872.66 1048.10V1054.10M876.50 1048.10V1054.10M879.83 1048.10V1054.10M882.77 1048.10V1054.10M902.67 1048.10V1054.10M912.78 1048.10V1054.10M919.95 1048.10V1054.10M925.51 1048.10V1054.10M930.06 1048.10V1054.10M933.90 1048.10V1054.10M937.23 1048.10V1054.10M940.16 1048.10V1054.10M960.07 1048.10V1054.10M970.18 1048.10V1054.10M977.35 1048.10V1054.10M982.91 1048.10V1054.10M987.45 1048.10V1054.10M991.30 1048.10V1054.10M994.63 1048.10V1054.10M997.56 1048.10V1054.10M1017.47 1048.10V1054.10M1027.57 1048.10V1054.10M1034.74 1048.10V1054.10M1040.31 1048.10V1054.10M1044.85 1048.10V1054.10M1048.69 1048.10V1054.10M1052.02 1048.10V1054.10M1054.96 1048.10V1054.10M1074.86 1048.10V1054.10M1084.97 1048.10V1054.10M1092.14 1048.10V1054.10M1097.70 1048.10V1054.10M1102.25 1048.10V1054.10M1106.09 1048.10V1054.10M1109.42 1048.10V1054.10M1112.35 1048.10V1054.10M1132.26 1048.10V1054.10M1142.37 1048.10V1054.10M1149.54 1048.10V1054.10M1155.10 1048.10V1054.10" stroke="#000" stroke-width="2.3" fill="none"/>
<text transform="translate(751.60,1045.68) scale(1,1.04)" text-anchor="end" font-size="30.5">0</text>
<text transform="translate(751.60,970.25) scale(1,1.04)" text-anchor="end" font-size="30.5">20</text>
<text transform="translate(751.60,894.82) scale(1,1.04)" text-anchor="end" font-size="30.5">40</text>
<text transform="translate(751.60,819.38) scale(1,1.04)" text-anchor="end" font-size="30.5">60</text>
<text transform="translate(751.60,743.95) scale(1,1.04)" text-anchor="end" font-size="30.5">80</text>
<text transform="translate(751.60,668.52) scale(1,1.04)" text-anchor="end" font-size="30.5">100</text>
<text transform="translate(771.30,1096.80) scale(1,1.04)" text-anchor="middle" font-size="29.5">10<tspan font-size="19" dx="-0.8" dy="-11.3">0</tspan></text>
<text transform="translate(828.70,1096.80) scale(1,1.04)" text-anchor="middle" font-size="29.5">10<tspan font-size="19" dx="-0.8" dy="-11.3">1</tspan></text>
<text transform="translate(886.09,1096.80) scale(1,1.04)" text-anchor="middle" font-size="29.5">10<tspan font-size="19" dx="-0.8" dy="-11.3">2</tspan></text>
<text transform="translate(943.49,1096.80) scale(1,1.04)" text-anchor="middle" font-size="29.5">10<tspan font-size="19" dx="-0.8" dy="-11.3">3</tspan></text>
<text transform="translate(1000.89,1096.80) scale(1,1.04)" text-anchor="middle" font-size="29.5">10<tspan font-size="19" dx="-0.8" dy="-11.3">4</tspan></text>
<text transform="translate(1058.28,1096.80) scale(1,1.04)" text-anchor="middle" font-size="29.5">10<tspan font-size="19" dx="-0.8" dy="-11.3">5</tspan></text>
<text transform="translate(1115.68,1096.80) scale(1,1.04)" text-anchor="middle" font-size="29.5">10<tspan font-size="19" dx="-0.8" dy="-11.3">6</tspan></text>
<text x="963.85" y="1144.10" text-anchor="middle" font-size="34.5">Oxidation time (mins)</text>
<text transform="translate(686.20,848.20) rotate(-90)" text-anchor="middle" font-size="31.9">Concentration (At%)</text>
<clipPath id="cld"><rect x="770.6" y="648.3" width="384.5" height="399.8"/></clipPath>
<rect x="781.20" y="662.80" width="12.60" height="12.60" fill="#ff0000" stroke="#fff" stroke-width="0.8" rx="0.8"/>
<rect x="822.90" y="666.70" width="12.60" height="12.60" fill="#ff0000" stroke="#fff" stroke-width="0.8" rx="0.8"/>
<rect x="865.10" y="669.60" width="12.60" height="12.60" fill="#ff0000" stroke="#fff" stroke-width="0.8" rx="0.8"/>
<rect x="890.10" y="679.20" width="12.60" height="12.60" fill="#ff0000" stroke="#fff" stroke-width="0.8" rx="0.8"/>
<rect x="910.60" y="681.80" width="12.60" height="12.60" fill="#ff0000" stroke="#fff" stroke-width="0.8" rx="0.8"/>
<rect x="933.60" y="685.40" width="12.60" height="12.60" fill="#ff0000" stroke="#fff" stroke-width="0.8" rx="0.8"/>
<rect x="944.90" y="687.50" width="12.60" height="12.60" fill="#ff0000" stroke="#fff" stroke-width="0.8" rx="0.8"/>
<rect x="975.40" y="695.90" width="12.60" height="12.60" fill="#ff0000" stroke="#fff" stroke-width="0.8" rx="0.8"/>
<rect x="993.70" y="695.30" width="12.60" height="12.60" fill="#ff0000" stroke="#fff" stroke-width="0.8" rx="0.8"/>
<rect x="997.20" y="706.60" width="12.60" height="12.60" fill="#ff0000" stroke="#fff" stroke-width="0.8" rx="0.8"/>
<rect x="1017.50" y="713.90" width="12.60" height="12.60" fill="#ff0000" stroke="#fff" stroke-width="0.8" rx="0.8"/>
<rect x="1018.70" y="720.00" width="12.60" height="12.60" fill="#ff0000" stroke="#fff" stroke-width="0.8" rx="0.8"/>
<rect x="1060.40" y="732.70" width="12.60" height="12.60" fill="#ff0000" stroke="#fff" stroke-width="0.8" rx="0.8"/>
<rect x="1060.90" y="746.60" width="12.60" height="12.60" fill="#ff0000" stroke="#fff" stroke-width="0.8" rx="0.8"/>
<rect x="1068.40" y="751.80" width="12.60" height="12.60" fill="#ff0000" stroke="#fff" stroke-width="0.8" rx="0.8"/>
<rect x="1067.00" y="763.50" width="12.60" height="12.60" fill="#ff0000" stroke="#fff" stroke-width="0.8" rx="0.8"/>
<rect x="1079.20" y="769.20" width="12.60" height="12.60" fill="#ff0000" stroke="#fff" stroke-width="0.8" rx="0.8"/>
<rect x="1093.10" y="796.50" width="12.60" height="12.60" fill="#ff0000" stroke="#fff" stroke-width="0.8" rx="0.8"/>
<rect x="1102.30" y="808.80" width="12.60" height="12.60" fill="#ff0000" stroke="#fff" stroke-width="0.8" rx="0.8"/>
<path d="M770.60 666.62L773.02 666.75L775.44 666.88L777.85 667.01L780.27 667.15L782.69 667.29L785.11 667.43L787.53 667.57L789.95 667.72L792.36 667.86L794.78 668.01L797.20 668.17L799.62 668.32L802.04 668.48L804.46 668.64L806.87 668.81L809.29 668.97L811.71 669.14L814.13 669.32L816.55 669.49L818.96 669.67L821.38 669.86L823.80 670.05L826.22 670.24L828.64 670.43L831.06 670.63L833.47 670.84L835.89 671.04L838.31 671.26L840.73 671.47L843.15 671.69L845.57 671.92L847.98 672.15L850.40 672.39L852.82 672.63L855.24 672.88L857.66 673.13L860.07 673.39L862.49 673.65L864.91 673.92L867.33 674.20L869.75 674.49L872.17 674.78L874.58 675.07L877.00 675.38L879.42 675.69L881.84 676.01L884.26 676.34L886.68 676.68L889.09 677.02L891.51 677.38L893.93 677.74L896.35 678.11L898.77 678.49L901.18 678.88L903.60 679.28L906.02 679.70L908.44 680.12L910.86 680.55L913.28 681.00L915.69 681.46L918.11 681.92L920.53 682.41L922.95 682.90L925.37 683.41L927.79 683.93L930.20 684.47L932.62 685.02L935.04 685.58L937.46 686.16L939.88 686.76L942.29 687.38L944.71 688.01L947.13 688.65L949.55 689.32L951.97 690.01L954.39 690.71L956.80 691.43L959.22 692.18L961.64 692.94L964.06 693.73L966.48 694.54L968.90 695.37L971.31 696.22L973.73 697.10L976.15 698.00L978.57 698.93L980.99 699.89L983.41 700.87L985.82 701.88L988.24 702.92L990.66 703.99L993.08 705.09L995.50 706.22L997.91 707.38L1000.33 708.57L1002.75 709.80L1005.17 711.06L1007.59 712.36L1010.01 713.70L1012.42 715.07L1014.84 716.48L1017.26 717.93L1019.68 719.43L1022.10 720.96L1024.52 722.54L1026.93 724.16L1029.35 725.82L1031.77 727.53L1034.19 729.29L1036.61 731.10L1039.02 732.95L1041.44 734.86L1043.86 736.82L1046.28 738.83L1048.70 740.90L1051.12 743.02L1053.53 745.19L1055.95 747.43L1058.37 749.72L1060.79 752.08L1063.21 754.49L1065.63 756.97L1068.04 759.51L1070.46 762.12L1072.88 764.79L1075.30 767.53L1077.72 770.34L1080.13 773.22L1082.55 776.16L1084.97 779.18L1087.39 782.27L1089.81 785.44L1092.23 788.67L1094.64 791.99L1097.06 795.38L1099.48 798.84L1101.90 802.38L1104.32 806.00L1106.74 809.70L1109.15 813.48L1111.57 817.34L1113.99 821.27L1116.41 825.29L1118.83 829.38L1121.24 833.56L1123.66 837.81L1126.08 842.14L1128.50 846.55L1130.92 851.04L1133.34 855.61L1135.75 860.25L1138.17 864.96L1140.59 869.75L1143.01 874.62L1145.43 879.55L1147.85 884.56L1150.26 889.63L1152.68 894.76L1155.10 899.96" fill="none" stroke="#ff0000" stroke-width="3.2" stroke-dasharray="5 7.3" clip-path="url(#cld)"/>
<circle cx="787.60" cy="658.90" r="7.10" fill="#00ff00" stroke="#fff" stroke-width="0.8"/>
<circle cx="787.60" cy="667.10" r="7.10" fill="#00ff00" stroke="#fff" stroke-width="0.8"/>
<circle cx="827.20" cy="670.00" r="7.10" fill="#00ff00" stroke="#fff" stroke-width="0.8"/>
<circle cx="872.40" cy="671.80" r="7.10" fill="#00ff00" stroke="#fff" stroke-width="0.8"/>
<circle cx="899.70" cy="679.80" r="7.10" fill="#00ff00" stroke="#fff" stroke-width="0.8"/>
<circle cx="917.10" cy="683.10" r="7.10" fill="#00ff00" stroke="#fff" stroke-width="0.8"/>
<circle cx="940.50" cy="686.70" r="7.10" fill="#00ff00" stroke="#fff" stroke-width="0.8"/>
<circle cx="951.80" cy="687.90" r="7.10" fill="#00ff00" stroke="#fff" stroke-width="0.8"/>
<circle cx="986.00" cy="697.20" r="7.10" fill="#00ff00" stroke="#fff" stroke-width="0.8"/>
<circle cx="992.00" cy="694.50" r="7.10" fill="#00ff00" stroke="#fff" stroke-width="0.8"/>
<circle cx="1003.30" cy="697.20" r="7.10" fill="#00ff00" stroke="#fff" stroke-width="0.8"/>
<circle cx="1006.50" cy="702.70" r="7.10" fill="#00ff00" stroke="#fff" stroke-width="0.8"/>
<circle cx="1024.50" cy="711.10" r="7.10" fill="#00ff00" stroke="#fff" stroke-width="0.8"/>
<circle cx="1045.00" cy="725.30" r="7.10" fill="#00ff00" stroke="#fff" stroke-width="0.8"/>
<circle cx="1081.50" cy="740.10" r="7.10" fill="#00ff00" stroke="#fff" stroke-width="0.8"/>
<circle cx="1082.40" cy="745.80" r="7.10" fill="#00ff00" stroke="#fff" stroke-width="0.8"/>
<circle cx="1076.80" cy="755.70" r="7.10" fill="#00ff00" stroke="#fff" stroke-width="0.8"/>
<circle cx="1090.70" cy="764.90" r="7.10" fill="#00ff00" stroke="#fff" stroke-width="0.8"/>
<circle cx="1077.20" cy="770.50" r="7.10" fill="#00ff00" stroke="#fff" stroke-width="0.8"/>
<circle cx="1102.70" cy="787.90" r="7.10" fill="#00ff00" stroke="#fff" stroke-width="0.8"/>
<circle cx="1111.10" cy="803.50" r="7.10" fill="#00ff00" stroke="#fff" stroke-width="0.8"/>
<path d="M770.60 666.61L773.02 666.75L775.44 666.89L777.85 667.03L780.27 667.18L782.69 667.32L785.11 667.46L787.53 667.61L789.95 667.75L792.36 667.90L794.78 668.04L797.20 668.19L799.62 668.33L802.04 668.48L804.46 668.63L806.87 668.78L809.29 668.92L811.71 669.08L814.13 669.23L816.55 669.38L818.96 669.53L821.38 669.69L823.80 669.84L826.22 670.00L828.64 670.16L831.06 670.32L833.47 670.48L835.89 670.65L838.31 670.81L840.73 670.98L843.15 671.15L845.57 671.32L847.98 671.50L850.40 671.68L852.82 671.86L855.24 672.05L857.66 672.23L860.07 672.42L862.49 672.62L864.91 672.82L867.33 673.02L869.75 673.22L872.17 673.43L874.58 673.65L877.00 673.87L879.42 674.09L881.84 674.32L884.26 674.56L886.68 674.80L889.09 675.04L891.51 675.29L893.93 675.55L896.35 675.82L898.77 676.09L901.18 676.37L903.60 676.65L906.02 676.95L908.44 677.25L910.86 677.56L913.28 677.87L915.69 678.20L918.11 678.54L920.53 678.88L922.95 679.24L925.37 679.60L927.79 679.98L930.20 680.37L932.62 680.77L935.04 681.18L937.46 681.60L939.88 682.04L942.29 682.49L944.71 682.95L947.13 683.43L949.55 683.92L951.97 684.43L954.39 684.95L956.80 685.49L959.22 686.05L961.64 686.62L964.06 687.21L966.48 687.82L968.90 688.45L971.31 689.11L973.73 689.78L976.15 690.47L978.57 691.19L980.99 691.92L983.41 692.69L985.82 693.47L988.24 694.29L990.66 695.13L993.08 695.99L995.50 696.89L997.91 697.81L1000.33 698.76L1002.75 699.75L1005.17 700.76L1007.59 701.81L1010.01 702.89L1012.42 704.01L1014.84 705.17L1017.26 706.36L1019.68 707.59L1022.10 708.85L1024.52 710.16L1026.93 711.51L1029.35 712.91L1031.77 714.35L1034.19 715.83L1036.61 717.36L1039.02 718.94L1041.44 720.57L1043.86 722.24L1046.28 723.97L1048.70 725.75L1051.12 727.59L1053.53 729.48L1055.95 731.43L1058.37 733.44L1060.79 735.50L1063.21 737.63L1065.63 739.81L1068.04 742.06L1070.46 744.37L1072.88 746.75L1075.30 749.19L1077.72 751.70L1080.13 754.28L1082.55 756.92L1084.97 759.64L1087.39 762.42L1089.81 765.27L1092.23 768.20L1094.64 771.19L1097.06 774.26L1099.48 777.39L1101.90 780.60L1104.32 783.87L1106.74 787.22L1109.15 790.63L1111.57 794.12L1113.99 797.67L1116.41 801.28L1118.83 804.96L1121.24 808.70L1123.66 812.51L1126.08 816.37L1128.50 820.28L1130.92 824.25L1133.34 828.27L1135.75 832.33L1138.17 836.43L1140.59 840.58L1143.01 844.75L1145.43 848.95L1147.85 853.18L1150.26 857.42L1152.68 861.67L1155.10 865.92" fill="none" stroke="#00ff00" stroke-width="3.2" stroke-dasharray="5 7.3" clip-path="url(#cld)"/>
<path d="M787.30 662.20L796.20 671.10L787.30 680.00L778.40 671.10Z" fill="#0000ff" stroke="#fff" stroke-width="0.8"/>
<path d="M855.10 678.70L864.00 687.60L855.10 696.50L846.20 687.60Z" fill="#0000ff" stroke="#fff" stroke-width="0.8"/>
<path d="M939.40 685.50L948.30 694.40L939.40 703.30L930.50 694.40Z" fill="#0000ff" stroke="#fff" stroke-width="0.8"/>
<path d="M963.00 696.80L971.90 705.70L963.00 714.60L954.10 705.70Z" fill="#0000ff" stroke="#fff" stroke-width="0.8"/>
<path d="M996.20 703.10L1005.10 712.00L996.20 720.90L987.30 712.00Z" fill="#0000ff" stroke="#fff" stroke-width="0.8"/>
<path d="M991.50 710.90L1000.40 719.80L991.50 728.70L982.60 719.80Z" fill="#0000ff" stroke="#fff" stroke-width="0.8"/>
<path d="M1044.00 727.70L1052.90 736.60L1044.00 745.50L1035.10 736.60Z" fill="#0000ff" stroke="#fff" stroke-width="0.8"/>
<path d="M1051.00 746.80L1059.90 755.70L1051.00 764.60L1042.10 755.70Z" fill="#0000ff" stroke="#fff" stroke-width="0.8"/>
<path d="M1060.00 759.40L1068.90 768.30L1060.00 777.20L1051.10 768.30Z" fill="#0000ff" stroke="#fff" stroke-width="0.8"/>
<path d="M1065.40 765.40L1074.30 774.30L1065.40 783.20L1056.50 774.30Z" fill="#0000ff" stroke="#fff" stroke-width="0.8"/>
<path d="M1075.30 780.70L1084.20 789.60L1075.30 798.50L1066.40 789.60Z" fill="#0000ff" stroke="#fff" stroke-width="0.8"/>
<path d="M1082.20 790.30L1091.10 799.20L1082.20 808.10L1073.30 799.20Z" fill="#0000ff" stroke="#fff" stroke-width="0.8"/>
<path d="M1093.90 810.30L1102.80 819.20L1093.90 828.10L1085.00 819.20Z" fill="#0000ff" stroke="#fff" stroke-width="0.8"/>
<path d="M1104.50 830.40L1113.40 839.30L1104.50 848.20L1095.60 839.30Z" fill="#0000ff" stroke="#fff" stroke-width="0.8"/>
<path d="M1112.60 845.90L1121.50 854.80L1112.60 863.70L1103.70 854.80Z" fill="#0000ff" stroke="#fff" stroke-width="0.8"/>
<path d="M770.60 666.48L773.02 666.64L775.44 666.79L777.85 666.95L780.27 667.12L782.69 667.28L785.11 667.45L787.53 667.62L789.95 667.79L792.36 667.96L794.78 668.13L797.20 668.31L799.62 668.49L802.04 668.67L804.46 668.86L806.87 669.04L809.29 669.23L811.71 669.42L814.13 669.62L816.55 669.82L818.96 670.02L821.38 670.23L823.80 670.44L826.22 670.65L828.64 670.86L831.06 671.08L833.47 671.31L835.89 671.54L838.31 671.77L840.73 672.01L843.15 672.25L845.57 672.50L847.98 672.75L850.40 673.01L852.82 673.27L855.24 673.54L857.66 673.81L860.07 674.09L862.49 674.38L864.91 674.67L867.33 674.97L869.75 675.28L872.17 675.60L874.58 675.92L877.00 676.25L879.42 676.59L881.84 676.94L884.26 677.29L886.68 677.66L889.09 678.04L891.51 678.42L893.93 678.82L896.35 679.22L898.77 679.64L901.18 680.07L903.60 680.51L906.02 680.97L908.44 681.43L910.86 681.91L913.28 682.40L915.69 682.91L918.11 683.43L920.53 683.97L922.95 684.52L925.37 685.09L927.79 685.68L930.20 686.28L932.62 686.90L935.04 687.55L937.46 688.20L939.88 688.88L942.29 689.59L944.71 690.31L947.13 691.05L949.55 691.82L951.97 692.61L954.39 693.42L956.80 694.27L959.22 695.13L961.64 696.03L964.06 696.95L966.48 697.90L968.90 698.88L971.31 699.89L973.73 700.93L976.15 702.01L978.57 703.12L980.99 704.26L983.41 705.44L985.82 706.66L988.24 707.92L990.66 709.21L993.08 710.55L995.50 711.93L997.91 713.35L1000.33 714.81L1002.75 716.32L1005.17 717.88L1007.59 719.49L1010.01 721.14L1012.42 722.85L1014.84 724.61L1017.26 726.43L1019.68 728.30L1022.10 730.22L1024.52 732.21L1026.93 734.25L1029.35 736.35L1031.77 738.52L1034.19 740.75L1036.61 743.05L1039.02 745.41L1041.44 747.84L1043.86 750.34L1046.28 752.92L1048.70 755.56L1051.12 758.28L1053.53 761.07L1055.95 763.94L1058.37 766.88L1060.79 769.90L1063.21 773.01L1065.63 776.19L1068.04 779.45L1070.46 782.79L1072.88 786.22L1075.30 789.73L1077.72 793.32L1080.13 796.99L1082.55 800.75L1084.97 804.59L1087.39 808.52L1089.81 812.52L1092.23 816.61L1094.64 820.78L1097.06 825.02L1099.48 829.35L1101.90 833.75L1104.32 838.23L1106.74 842.78L1109.15 847.40L1111.57 852.09L1113.99 856.84L1116.41 861.65L1118.83 866.52L1121.24 871.45L1123.66 876.42L1126.08 881.44L1128.50 886.49L1130.92 891.58L1133.34 896.70L1135.75 901.83L1138.17 906.98L1140.59 912.14L1143.01 917.30L1145.43 922.44L1147.85 927.57L1150.26 932.68L1152.68 937.74L1155.10 942.77" fill="none" stroke="#0000ff" stroke-width="3.2" stroke-dasharray="5 7.3" clip-path="url(#cld)"/>
<rect x="782.60" y="1022.40" width="9.80" height="9.80" fill="none" stroke="#ff0000" stroke-width="3.1" stroke-linejoin="round"/>
<rect x="824.30" y="1018.50" width="9.80" height="9.80" fill="none" stroke="#ff0000" stroke-width="3.1" stroke-linejoin="round"/>
<rect x="866.50" y="1015.60" width="9.80" height="9.80" fill="none" stroke="#ff0000" stroke-width="3.1" stroke-linejoin="round"/>
<rect x="891.50" y="1006.00" width="9.80" height="9.80" fill="none" stroke="#ff0000" stroke-width="3.1" stroke-linejoin="round"/>
<rect x="912.00" y="1003.40" width="9.80" height="9.80" fill="none" stroke="#ff0000" stroke-width="3.1" stroke-linejoin="round"/>
<rect x="935.00" y="999.80" width="9.80" height="9.80" fill="none" stroke="#ff0000" stroke-width="3.1" stroke-linejoin="round"/>
<rect x="946.30" y="997.70" width="9.80" height="9.80" fill="none" stroke="#ff0000" stroke-width="3.1" stroke-linejoin="round"/>
<rect x="976.80" y="989.30" width="9.80" height="9.80" fill="none" stroke="#ff0000" stroke-width="3.1" stroke-linejoin="round"/>
<rect x="995.10" y="989.90" width="9.80" height="9.80" fill="none" stroke="#ff0000" stroke-width="3.1" stroke-linejoin="round"/>
<rect x="998.60" y="978.60" width="9.80" height="9.80" fill="none" stroke="#ff0000" stroke-width="3.1" stroke-linejoin="round"/>
<rect x="1018.90" y="971.30" width="9.80" height="9.80" fill="none" stroke="#ff0000" stroke-width="3.1" stroke-linejoin="round"/>
<rect x="1020.10" y="965.20" width="9.80" height="9.80" fill="none" stroke="#ff0000" stroke-width="3.1" stroke-linejoin="round"/>
<rect x="1061.80" y="952.50" width="9.80" height="9.80" fill="none" stroke="#ff0000" stroke-width="3.1" stroke-linejoin="round"/>
<rect x="1062.30" y="938.60" width="9.80" height="9.80" fill="none" stroke="#ff0000" stroke-width="3.1" stroke-linejoin="round"/>
<rect x="1069.80" y="933.40" width="9.80" height="9.80" fill="none" stroke="#ff0000" stroke-width="3.1" stroke-linejoin="round"/>
<rect x="1068.40" y="921.70" width="9.80" height="9.80" fill="none" stroke="#ff0000" stroke-width="3.1" stroke-linejoin="round"/>
<rect x="1080.60" y="916.00" width="9.80" height="9.80" fill="none" stroke="#ff0000" stroke-width="3.1" stroke-linejoin="round"/>
<rect x="1094.50" y="888.70" width="9.80" height="9.80" fill="none" stroke="#ff0000" stroke-width="3.1" stroke-linejoin="round"/>
<rect x="1103.70" y="876.40" width="9.80" height="9.80" fill="none" stroke="#ff0000" stroke-width="3.1" stroke-linejoin="round"/>
<path d="M770.60 1029.87L773.02 1029.73L775.44 1029.59L777.85 1029.44L780.27 1029.29L782.69 1029.14L785.11 1028.99L787.53 1028.83L789.95 1028.68L792.36 1028.52L794.78 1028.35L797.20 1028.19L799.62 1028.02L802.04 1027.85L804.46 1027.68L806.87 1027.50L809.29 1027.32L811.71 1027.14L814.13 1026.96L816.55 1026.77L818.96 1026.57L821.38 1026.38L823.80 1026.18L826.22 1025.98L828.64 1025.77L831.06 1025.56L833.47 1025.35L835.89 1025.13L838.31 1024.91L840.73 1024.68L843.15 1024.45L845.57 1024.21L847.98 1023.97L850.40 1023.72L852.82 1023.47L855.24 1023.21L857.66 1022.95L860.07 1022.68L862.49 1022.41L864.91 1022.13L867.33 1021.84L869.75 1021.55L872.17 1021.25L874.58 1020.94L877.00 1020.63L879.42 1020.31L881.84 1019.98L884.26 1019.64L886.68 1019.30L889.09 1018.95L891.51 1018.59L893.93 1018.22L896.35 1017.84L898.77 1017.45L901.18 1017.05L903.60 1016.65L906.02 1016.23L908.44 1015.80L910.86 1015.36L913.28 1014.91L915.69 1014.45L918.11 1013.98L920.53 1013.49L922.95 1012.99L925.37 1012.48L927.79 1011.96L930.20 1011.42L932.62 1010.86L935.04 1010.30L937.46 1009.71L939.88 1009.11L942.29 1008.50L944.71 1007.87L947.13 1007.22L949.55 1006.55L951.97 1005.87L954.39 1005.17L956.80 1004.45L959.22 1003.70L961.64 1002.94L964.06 1002.16L966.48 1001.35L968.90 1000.53L971.31 999.68L973.73 998.80L976.15 997.90L978.57 996.98L980.99 996.03L983.41 995.06L985.82 994.06L988.24 993.03L990.66 991.97L993.08 990.88L995.50 989.76L997.91 988.61L1000.33 987.43L1002.75 986.21L1005.17 984.96L1007.59 983.68L1010.01 982.36L1012.42 981.00L1014.84 979.61L1017.26 978.18L1019.68 976.71L1022.10 975.19L1024.52 973.64L1026.93 972.04L1029.35 970.40L1031.77 968.72L1034.19 966.99L1036.61 965.21L1039.02 963.38L1041.44 961.51L1043.86 959.58L1046.28 957.60L1048.70 955.57L1051.12 953.49L1053.53 951.35L1055.95 949.16L1058.37 946.90L1060.79 944.59L1063.21 942.23L1065.63 939.80L1068.04 937.30L1070.46 934.75L1072.88 932.13L1075.30 929.45L1077.72 926.70L1080.13 923.89L1082.55 921.01L1084.97 918.05L1087.39 915.03L1089.81 911.94L1092.23 908.78L1094.64 905.55L1097.06 902.24L1099.48 898.86L1101.90 895.41L1104.32 891.88L1106.74 888.28L1109.15 884.60L1111.57 880.85L1113.99 877.02L1116.41 873.12L1118.83 869.14L1121.24 865.09L1123.66 860.96L1126.08 856.76L1128.50 852.49L1130.92 848.14L1133.34 843.72L1135.75 839.23L1138.17 834.67L1140.59 830.05L1143.01 825.36L1145.43 820.60L1147.85 815.78L1150.26 810.91L1152.68 805.97L1155.10 800.98" fill="none" stroke="#ff0000" stroke-width="3.2" stroke-dasharray="5 7.3" clip-path="url(#cld)"/>
<circle cx="787.60" cy="1037.40" r="5.60" fill="none" stroke="#00ff00" stroke-width="3.5"/>
<circle cx="787.60" cy="1029.20" r="5.60" fill="none" stroke="#00ff00" stroke-width="3.5"/>
<circle cx="827.20" cy="1026.30" r="5.60" fill="none" stroke="#00ff00" stroke-width="3.5"/>
<circle cx="872.40" cy="1024.50" r="5.60" fill="none" stroke="#00ff00" stroke-width="3.5"/>
<circle cx="899.70" cy="1016.50" r="5.60" fill="none" stroke="#00ff00" stroke-width="3.5"/>
<circle cx="917.10" cy="1013.20" r="5.60" fill="none" stroke="#00ff00" stroke-width="3.5"/>
<circle cx="940.50" cy="1009.60" r="5.60" fill="none" stroke="#00ff00" stroke-width="3.5"/>
<circle cx="951.80" cy="1008.40" r="5.60" fill="none" stroke="#00ff00" stroke-width="3.5"/>
<circle cx="986.00" cy="999.10" r="5.60" fill="none" stroke="#00ff00" stroke-width="3.5"/>
<circle cx="992.00" cy="1001.80" r="5.60" fill="none" stroke="#00ff00" stroke-width="3.5"/>
<circle cx="1003.30" cy="999.10" r="5.60" fill="none" stroke="#00ff00" stroke-width="3.5"/>
<circle cx="1006.50" cy="993.60" r="5.60" fill="none" stroke="#00ff00" stroke-width="3.5"/>
<circle cx="1024.50" cy="985.20" r="5.60" fill="none" stroke="#00ff00" stroke-width="3.5"/>
<circle cx="1045.00" cy="971.00" r="5.60" fill="none" stroke="#00ff00" stroke-width="3.5"/>
<circle cx="1081.50" cy="956.20" r="5.60" fill="none" stroke="#00ff00" stroke-width="3.5"/>
<circle cx="1082.40" cy="950.50" r="5.60" fill="none" stroke="#00ff00" stroke-width="3.5"/>
<circle cx="1076.80" cy="940.60" r="5.60" fill="none" stroke="#00ff00" stroke-width="3.5"/>
<circle cx="1090.70" cy="931.40" r="5.60" fill="none" stroke="#00ff00" stroke-width="3.5"/>
<circle cx="1077.20" cy="925.80" r="5.60" fill="none" stroke="#00ff00" stroke-width="3.5"/>
<circle cx="1102.70" cy="908.40" r="5.60" fill="none" stroke="#00ff00" stroke-width="3.5"/>
<circle cx="1111.10" cy="892.80" r="5.60" fill="none" stroke="#00ff00" stroke-width="3.5"/>
<path d="M770.60 1030.94L773.02 1030.81L775.44 1030.67L777.85 1030.54L780.27 1030.40L782.69 1030.26L785.11 1030.12L787.53 1029.98L789.95 1029.84L792.36 1029.69L794.78 1029.54L797.20 1029.40L799.62 1029.25L802.04 1029.10L804.46 1028.94L806.87 1028.79L809.29 1028.63L811.71 1028.47L814.13 1028.31L816.55 1028.14L818.96 1027.98L821.38 1027.81L823.80 1027.64L826.22 1027.46L828.64 1027.29L831.06 1027.11L833.47 1026.93L835.89 1026.74L838.31 1026.56L840.73 1026.37L843.15 1026.17L845.57 1025.97L847.98 1025.77L850.40 1025.57L852.82 1025.36L855.24 1025.15L857.66 1024.93L860.07 1024.71L862.49 1024.49L864.91 1024.26L867.33 1024.03L869.75 1023.79L872.17 1023.55L874.58 1023.30L877.00 1023.04L879.42 1022.78L881.84 1022.52L884.26 1022.25L886.68 1021.97L889.09 1021.69L891.51 1021.40L893.93 1021.10L896.35 1020.80L898.77 1020.49L901.18 1020.17L903.60 1019.84L906.02 1019.51L908.44 1019.16L910.86 1018.81L913.28 1018.45L915.69 1018.08L918.11 1017.70L920.53 1017.31L922.95 1016.91L925.37 1016.50L927.79 1016.08L930.20 1015.65L932.62 1015.20L935.04 1014.75L937.46 1014.28L939.88 1013.79L942.29 1013.30L944.71 1012.79L947.13 1012.26L949.55 1011.73L951.97 1011.17L954.39 1010.60L956.80 1010.01L959.22 1009.41L961.64 1008.79L964.06 1008.15L966.48 1007.49L968.90 1006.81L971.31 1006.12L973.73 1005.40L976.15 1004.66L978.57 1003.90L980.99 1003.11L983.41 1002.31L985.82 1001.47L988.24 1000.62L990.66 999.74L993.08 998.83L995.50 997.89L997.91 996.92L1000.33 995.93L1002.75 994.91L1005.17 993.85L1007.59 992.76L1010.01 991.64L1012.42 990.49L1014.84 989.30L1017.26 988.07L1019.68 986.81L1022.10 985.51L1024.52 984.16L1026.93 982.78L1029.35 981.36L1031.77 979.89L1034.19 978.38L1036.61 976.82L1039.02 975.22L1041.44 973.56L1043.86 971.86L1046.28 970.11L1048.70 968.30L1051.12 966.44L1053.53 964.53L1055.95 962.56L1058.37 960.53L1060.79 958.44L1063.21 956.29L1065.63 954.08L1068.04 951.81L1070.46 949.47L1072.88 947.06L1075.30 944.58L1077.72 942.04L1080.13 939.42L1082.55 936.73L1084.97 933.97L1087.39 931.13L1089.81 928.22L1092.23 925.23L1094.64 922.15L1097.06 919.00L1099.48 915.77L1101.90 912.45L1104.32 909.05L1106.74 905.57L1109.15 902.00L1111.57 898.34L1113.99 894.60L1116.41 890.76L1118.83 886.84L1121.24 882.83L1123.66 878.73L1126.08 874.55L1128.50 870.27L1130.92 865.91L1133.34 861.45L1135.75 856.91L1138.17 852.28L1140.59 847.57L1143.01 842.77L1145.43 837.89L1147.85 832.92L1150.26 827.88L1152.68 822.76L1155.10 817.56" fill="none" stroke="#00ff00" stroke-width="3.2" stroke-dasharray="5 7.3" clip-path="url(#cld)"/>
<path d="M787.30 1018.10L794.20 1025.00L787.30 1031.90L780.40 1025.00Z" fill="none" stroke="#0000ff" stroke-width="3" stroke-linejoin="round"/>
<path d="M855.10 1001.60L862.00 1008.50L855.10 1015.40L848.20 1008.50Z" fill="none" stroke="#0000ff" stroke-width="3" stroke-linejoin="round"/>
<path d="M939.40 994.80L946.30 1001.70L939.40 1008.60L932.50 1001.70Z" fill="none" stroke="#0000ff" stroke-width="3" stroke-linejoin="round"/>
<path d="M963.00 983.50L969.90 990.40L963.00 997.30L956.10 990.40Z" fill="none" stroke="#0000ff" stroke-width="3" stroke-linejoin="round"/>
<path d="M996.20 977.20L1003.10 984.10L996.20 991.00L989.30 984.10Z" fill="none" stroke="#0000ff" stroke-width="3" stroke-linejoin="round"/>
<path d="M991.50 969.40L998.40 976.30L991.50 983.20L984.60 976.30Z" fill="none" stroke="#0000ff" stroke-width="3" stroke-linejoin="round"/>
<path d="M1044.00 952.60L1050.90 959.50L1044.00 966.40L1037.10 959.50Z" fill="none" stroke="#0000ff" stroke-width="3" stroke-linejoin="round"/>
<path d="M1051.00 933.50L1057.90 940.40L1051.00 947.30L1044.10 940.40Z" fill="none" stroke="#0000ff" stroke-width="3" stroke-linejoin="round"/>
<path d="M1060.00 920.90L1066.90 927.80L1060.00 934.70L1053.10 927.80Z" fill="none" stroke="#0000ff" stroke-width="3" stroke-linejoin="round"/>
<path d="M1065.40 914.90L1072.30 921.80L1065.40 928.70L1058.50 921.80Z" fill="none" stroke="#0000ff" stroke-width="3" stroke-linejoin="round"/>
<path d="M1075.30 899.60L1082.20 906.50L1075.30 913.40L1068.40 906.50Z" fill="none" stroke="#0000ff" stroke-width="3" stroke-linejoin="round"/>
<path d="M1082.20 890.00L1089.10 896.90L1082.20 903.80L1075.30 896.90Z" fill="none" stroke="#0000ff" stroke-width="3" stroke-linejoin="round"/>
<path d="M1093.90 870.00L1100.80 876.90L1093.90 883.80L1087.00 876.90Z" fill="none" stroke="#0000ff" stroke-width="3" stroke-linejoin="round"/>
<path d="M1104.50 849.90L1111.40 856.80L1104.50 863.70L1097.60 856.80Z" fill="none" stroke="#0000ff" stroke-width="3" stroke-linejoin="round"/>
<path d="M1112.60 834.40L1119.50 841.30L1112.60 848.20L1105.70 841.30Z" fill="none" stroke="#0000ff" stroke-width="3" stroke-linejoin="round"/>
<path d="M770.60 1028.94L773.02 1028.78L775.44 1028.62L777.85 1028.46L780.27 1028.30L782.69 1028.14L785.11 1027.97L787.53 1027.80L789.95 1027.63L792.36 1027.45L794.78 1027.28L797.20 1027.10L799.62 1026.91L802.04 1026.73L804.46 1026.54L806.87 1026.34L809.29 1026.15L811.71 1025.95L814.13 1025.74L816.55 1025.54L818.96 1025.32L821.38 1025.11L823.80 1024.89L826.22 1024.67L828.64 1024.44L831.06 1024.20L833.47 1023.96L835.89 1023.72L838.31 1023.47L840.73 1023.22L843.15 1022.96L845.57 1022.70L847.98 1022.42L850.40 1022.15L852.82 1021.86L855.24 1021.57L857.66 1021.28L860.07 1020.97L862.49 1020.66L864.91 1020.34L867.33 1020.02L869.75 1019.68L872.17 1019.34L874.58 1018.99L877.00 1018.63L879.42 1018.26L881.84 1017.89L884.26 1017.50L886.68 1017.10L889.09 1016.69L891.51 1016.27L893.93 1015.84L896.35 1015.40L898.77 1014.95L901.18 1014.48L903.60 1014.01L906.02 1013.52L908.44 1013.01L910.86 1012.49L913.28 1011.96L915.69 1011.41L918.11 1010.85L920.53 1010.27L922.95 1009.68L925.37 1009.07L927.79 1008.44L930.20 1007.80L932.62 1007.13L935.04 1006.45L937.46 1005.75L939.88 1005.02L942.29 1004.28L944.71 1003.51L947.13 1002.73L949.55 1001.92L951.97 1001.08L954.39 1000.23L956.80 999.34L959.22 998.44L961.64 997.50L964.06 996.54L966.48 995.55L968.90 994.53L971.31 993.48L973.73 992.40L976.15 991.29L978.57 990.15L980.99 988.97L983.41 987.76L985.82 986.51L988.24 985.23L990.66 983.91L993.08 982.55L995.50 981.15L997.91 979.72L1000.33 978.24L1002.75 976.72L1005.17 975.15L1007.59 973.54L1010.01 971.88L1012.42 970.18L1014.84 968.43L1017.26 966.62L1019.68 964.77L1022.10 962.87L1024.52 960.91L1026.93 958.90L1029.35 956.83L1031.77 954.71L1034.19 952.53L1036.61 950.29L1039.02 947.99L1041.44 945.63L1043.86 943.20L1046.28 940.71L1048.70 938.16L1051.12 935.55L1053.53 932.86L1055.95 930.11L1058.37 927.29L1060.79 924.40L1063.21 921.44L1065.63 918.41L1068.04 915.30L1070.46 912.13L1072.88 908.88L1075.30 905.56L1077.72 902.16L1080.13 898.69L1082.55 895.14L1084.97 891.52L1087.39 887.83L1089.81 884.06L1092.23 880.21L1094.64 876.30L1097.06 872.31L1099.48 868.24L1101.90 864.11L1104.32 859.90L1106.74 855.63L1109.15 851.28L1111.57 846.88L1113.99 842.40L1116.41 837.87L1118.83 833.27L1121.24 828.62L1123.66 823.91L1126.08 819.16L1128.50 814.35L1130.92 809.50L1133.34 804.61L1135.75 799.69L1138.17 794.73L1140.59 789.75L1143.01 784.74L1145.43 779.72L1147.85 774.69L1150.26 769.65L1152.68 764.62L1155.10 759.59" fill="none" stroke="#0000ff" stroke-width="3.2" stroke-dasharray="5 7.3" clip-path="url(#cld)"/>
<rect x="814.00" y="811.40" width="12.20" height="12.20" fill="#ff0000"/>
<rect x="874.40" y="812.90" width="9.20" height="9.20" fill="none" stroke="#ff0000" stroke-width="3" stroke-linejoin="round"/>
<circle cx="820.10" cy="850.60" r="6.90" fill="#00ff00"/>
<circle cx="879.00" cy="850.60" r="5.30" fill="none" stroke="#00ff00" stroke-width="3.5"/>
<path d="M820.10 874.30L828.90 883.10L820.10 891.90L811.30 883.10Z" fill="#0000ff"/>
<path d="M879.00 876.40L885.70 883.10L879.00 889.80L872.30 883.10Z" fill="none" stroke="#0000ff" stroke-width="3" stroke-linejoin="round"/>
<text x="915.5" y="827.20" font-size="26.8">Ge(110)</text>
<text x="915.5" y="860.00" font-size="26.8">Ge(111)</text>
<text x="915.5" y="892.80" font-size="26.8">Ge(001)</text>
<text x="1069.5" y="702.5" font-size="29.3">Ge</text>
<text x="1011" y="1036.5" font-size="29.2">Ge-oxide</text>
<text x="13" y="28.5" font-size="36.5">(a)</text>
<text x="539" y="28.5" text-anchor="end" font-size="36.8">Ge(001)</text>
<text x="604.5" y="28.3" font-size="36.5">(b)</text>
<text x="1137.5" y="28.8" text-anchor="end" font-size="36.8">Ge(110)</text>
<text x="-1.5" y="633.5" font-size="36.5">(c)</text>
<text x="544.5" y="633.5" text-anchor="end" font-size="36.8">Ge(111)</text>
<text x="604.5" y="634.5" font-size="36.5">(d)</text>
</svg></body></html>
